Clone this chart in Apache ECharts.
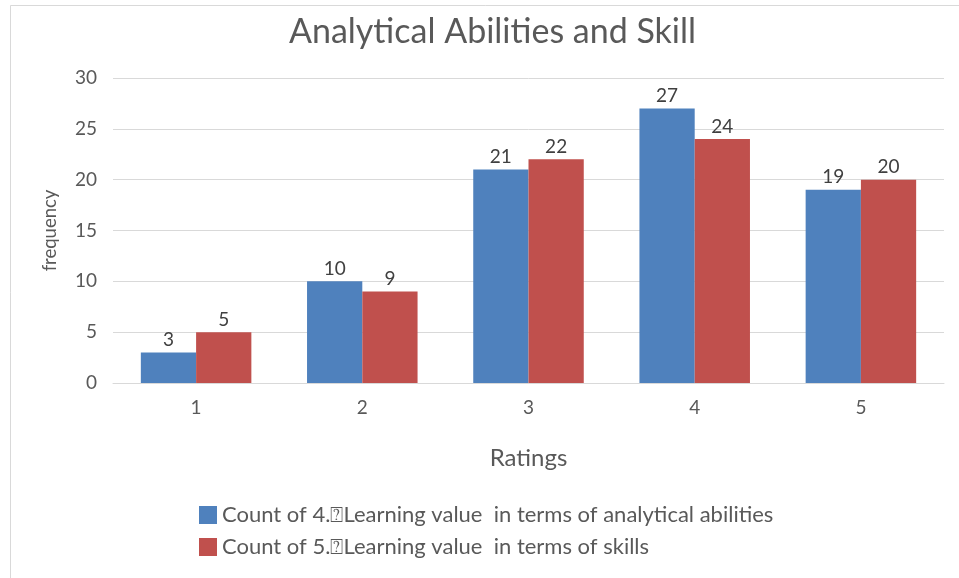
<!DOCTYPE html>
<html>
<head>
<meta charset="utf-8">
<script src="https://cdn.jsdelivr.net/npm/echarts@6/dist/echarts.min.js"></script>
<style>
	html, body { margin: 0; padding: 0; background: #fff; }
	#chart { width: 959px; height: 578px; }
</style>
</head>
<body>
<div id="chart"></div>
<script>
	// data
	var ratings = ['1', '2', '3', '4', '5'];
	var analytical = [3, 10, 21, 27, 19];
	var skills = [5, 9, 22, 24, 20];
	var seriesNames = [
		'Count of 4.\u2370Learning value  in terms of analytical abilities',
		'Count of 5.\u2370Learning value  in terms of skills'
	];

	var font = 'Lato';
	var textColor = '#595959';

	var myChart = echarts.init(document.getElementById('chart'));
	myChart.setOption({
		animation: false,
		backgroundColor: '#fff',
		textStyle: { fontFamily: font },
		title: {
			text: 'Analytical Abilities and Skill',
			left: 284,
			top: 10,
			textStyle: { fontFamily: font, fontSize: 34, fontWeight: 'normal', color: textColor }
		},
		graphic: [{
			type: 'rect',
			shape: { x: 10.5, y: 5.5, width: 1000, height: 1000 },
			style: { fill: 'none', stroke: '#d9d9d9', lineWidth: 1 },
			silent: true
		}],
		legend: {
			orient: 'vertical',
			left: 199,
			top: 504,
			padding: 0,
			itemWidth: 18,
			itemHeight: 18,
			itemGap: 10,
			icon: 'rect',
			textStyle: { fontFamily: font, fontSize: 22, color: textColor },
			data: seriesNames
		},
		grid: { left: 113, right: 15, top: 78, bottom: 195 },
		xAxis: {
			type: 'category',
			data: ratings,
			name: 'Ratings',
			nameLocation: 'middle',
			nameGap: 63,
			nameTextStyle: { fontFamily: font, fontSize: 24, color: textColor },
			axisLine: { lineStyle: { color: '#d9d9d9' } },
			axisTick: { show: false },
			axisLabel: { fontFamily: font, fontSize: 19, color: textColor, margin: 15 }
		},
		yAxis: {
			type: 'value',
			min: 0,
			max: 30,
			interval: 5,
			name: 'frequency',
			nameLocation: 'middle',
			nameGap: 53,
			nameTextStyle: { fontFamily: font, fontSize: 18.5, color: textColor },
			axisLine: { show: false },
			axisTick: { show: false },
			axisLabel: { fontFamily: font, fontSize: 19, color: textColor, margin: 16 },
			splitLine: { lineStyle: { color: '#d9d9d9', width: 1 } }
		},
		series: [{
			name: seriesNames[0],
			type: 'bar',
			data: analytical,
			barGap: '0%',
			barCategoryGap: '33.5%',
			itemStyle: { color: '#4F81BD' },
			label: { show: true, position: 'top', distance: 3, fontFamily: font, fontSize: 19, color: '#404040' }
		}, {
			name: seriesNames[1],
			type: 'bar',
			data: skills,
			barGap: '0%',
			barCategoryGap: '33.5%',
			itemStyle: { color: '#C0504D' },
			label: { show: true, position: 'top', distance: 3, fontFamily: font, fontSize: 19, color: '#404040' }
		}]
	});
</script>
</body>
</html>
